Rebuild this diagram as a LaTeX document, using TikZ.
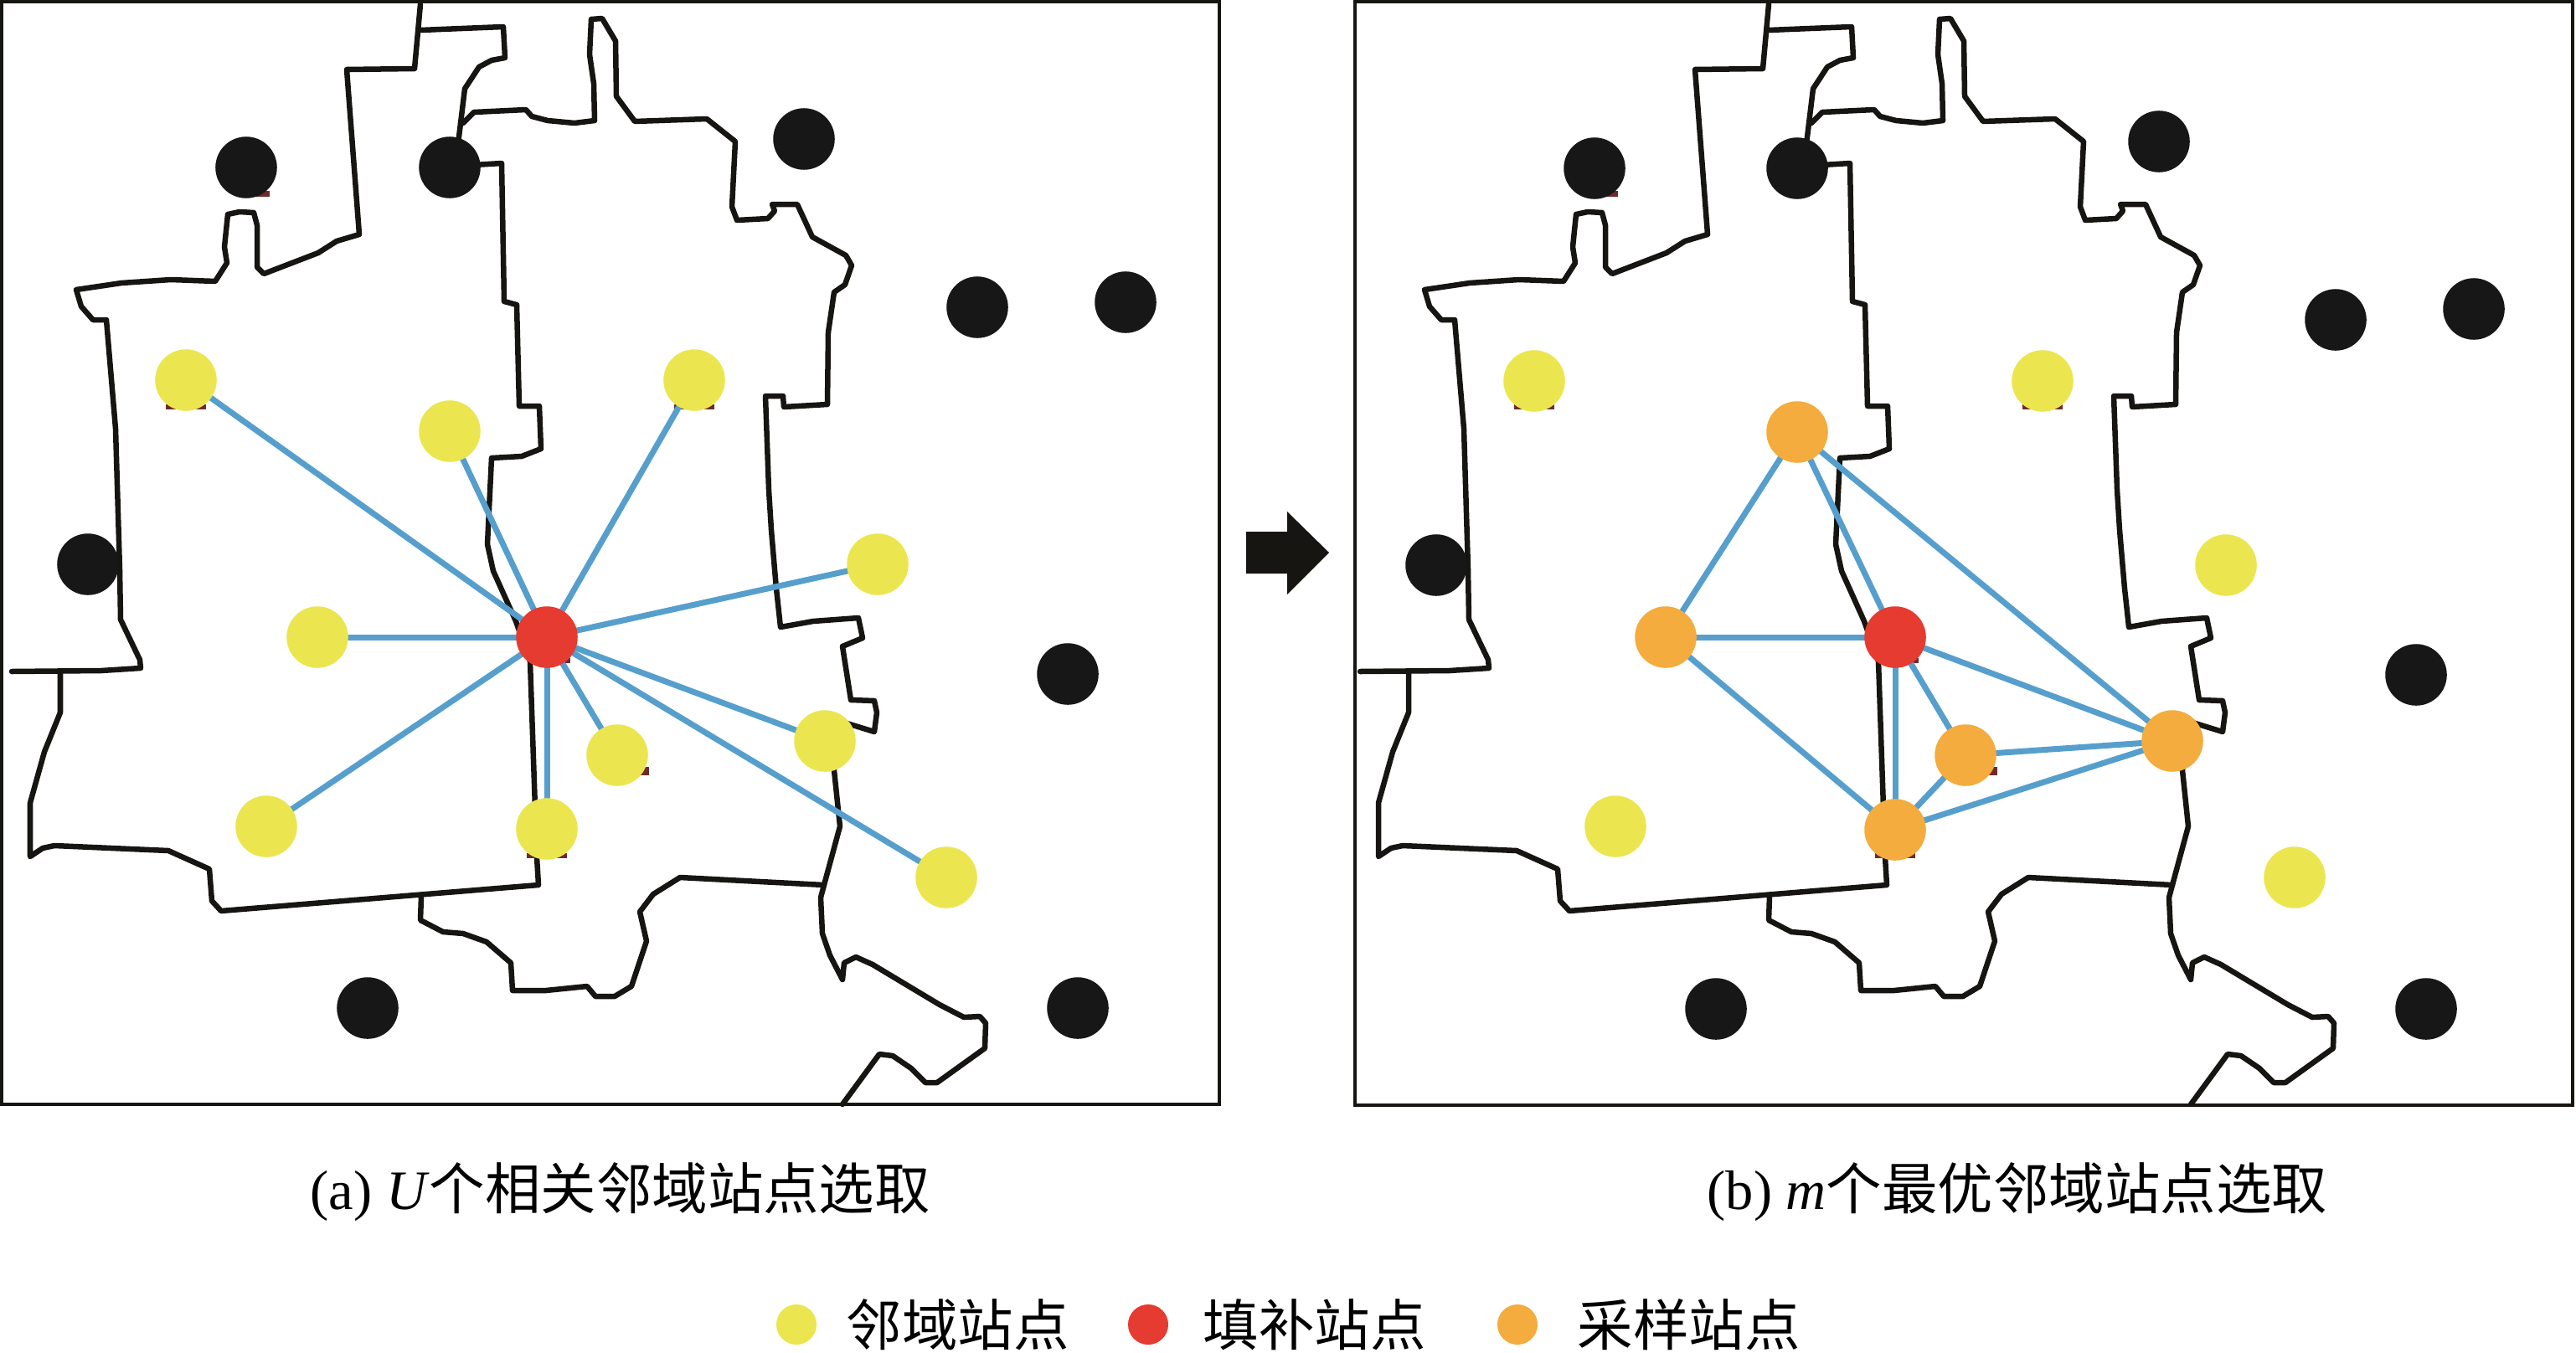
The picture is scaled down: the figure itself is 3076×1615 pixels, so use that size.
\documentclass[tikz,border=0pt]{standalone}
\usepackage{fontspec}
\setmainfont{Liberation Serif}
\newfontfamily\cjk{Noto Sans CJK SC}
\usetikzlibrary{backgrounds}
\definecolor{inkblack}{HTML}{171512}
\definecolor{farblack}{HTML}{171717}
\definecolor{siteyellow}{HTML}{EBE650}
\definecolor{sitered}{HTML}{E53B30}
\definecolor{siteorange}{HTML}{F3AC3D}
\definecolor{linkblue}{HTML}{569FCD}
\definecolor{stainred}{HTML}{6E2A2C}
\tikzset{
  site/.style={circle,minimum size=0.735cm,inner sep=0pt,outer sep=0pt},
  farsite/.style={site,fill=farblack},
  nearsite/.style={site,fill=siteyellow},
  fillsite/.style={site,fill=sitered},
  samplesite/.style={site,fill=siteorange},
  keydot/.style={minimum size=0.48cm},
  link/.style={linkblue,line width=0.07cm,shorten <=-3pt,shorten >=-3pt},
  cityline/.style={inkblack,line width=0.065cm,line join=round,line cap=round},
  panel/.style={inkblack,line width=0.04cm},
  stain/.style={fill=stainred},
  label/.style={inner sep=0pt,font=\fontsize{18.9}{22}\selectfont}
}
\newcommand{\cityoutline}{%
  \draw[cityline] (502,5) -- (495,82) -- (414,83) -- (429,280) -- (402,288) -- (380,302) -- (315,327) -- (307,319) -- (307,269) -- (303,254) -- (286,253) -- (272,256) -- (268,295) -- (271,314) -- (257,336) -- (204,334) -- (145,338) -- (91,346) -- (97,366) -- (111,382) -- (127,382) -- (138,512) -- (143,680) -- (144,740) -- (167,788) -- (168,798) -- (121,801) -- (14,802);
  \draw[cityline] (72,803) -- (72,851) -- (53,898) -- (36,959) -- (36,1023) -- (51,1013) -- (65,1010) -- (201,1016) -- (250,1038) -- (253,1076) -- (264,1088) -- (643,1057) -- (641,1024) -- (633,790) -- (616,742) -- (589,682) -- (582,650) -- (587,547) -- (623,545) -- (646,536) -- (644,485) -- (620,485) -- (617,364) -- (602,360) -- (599,195) -- (550,198);
  \draw[cityline] (546,180) -- (555,106) -- (572,80) -- (587,72) -- (603,69) -- (601,32) -- (502,36);
  \draw[cityline] (553,147) -- (566,134) -- (628,131) -- (635,139) -- (654,144) -- (686,147) -- (710,144) -- (709,100) -- (704,65) -- (706,23) -- (719,22) -- (735,49) -- (736,115) -- (758,145) -- (844,142) -- (878,169) -- (874,247) -- (880,263) -- (917,261) -- (925,252) -- (922,244) -- (952,244) -- (970,283) -- (1010,305) -- (1017,317) -- (1009,340) -- (996,349) -- (989,397) -- (988,483) -- (936,486) -- (935,473) -- (914,473) -- (918,585) -- (921,633) -- (925,680) -- (927,703) -- (932,749) -- (971,742) -- (1025,738) -- (1030,762) -- (1006,772) -- (1016,836) -- (1044,837) -- (1047,851) -- (1044,874) -- (1005,862) -- (996,920) -- (1003,987) -- (984,1057) -- (980,1072) -- (982,1115) -- (991,1141) -- (1006,1170) -- (1008,1150) -- (1022,1143) -- (1042,1152) -- (1122,1200) -- (1151,1215) -- (1170,1214) -- (1177,1222) -- (1176,1252) -- (1119,1293) -- (1105,1293) -- (1088,1276) -- (1066,1261) -- (1050,1259) -- (1006,1319);
  \draw[cityline] (984,1057) -- (812,1048) -- (780,1068) -- (764,1089) -- (772,1124) -- (754,1178) -- (734,1190) -- (711,1190) -- (701,1178) -- (652,1183) -- (612,1183) -- (610,1150) -- (581,1125) -- (553,1115) -- (529,1113) -- (502,1099) -- (503,1070);
  \foreach \a/\b in {222/454,829/454,653/990}
    \fill[stain] (\a-24,\b+29) rectangle (\a+24,\b+35);
  \fill[stain] (290,228) rectangle (322,235);
  \fill[stain] (672,786) rectangle (681,792);
  \fill[stain] (762,916) rectangle (775,926);
}
\begin{document}
\begin{tikzpicture}[x=0.01cm,y=-0.01cm]
  \useasboundingbox (0,0) rectangle (3076,1615);

  % left panel
  \foreach \name/\x/\y in {fa/294/200,fb/537/200,fc/105/674,fd/960/166,fe/1167/367,ff/1344/361,fg/1275/805,fh/1287/1204,fi/439/1204}
    \node[farsite] (\name) at (\x,\y) {};
  \foreach \name/\x/\y in {na/222/454,nb/537/515,nc/829/454,nd/1048/674,ne/379/761,nf/318/987,ng/653/990,nh/737/902,ni/985/885,nj/1130/1048}
    \node[nearsite] (\name) at (\x,\y) {};
  \node[fillsite] (fill) at (653,761) {};

  % right panel
  \foreach \name/\x/\y in {ra/1904/201,rb/2146/201,rc/1715/675,rd/2578/169,re/2789/382,rf/2954/369,rg/2885/806,rh/2897/1205,ri/2049/1205}
    \node[farsite] (\name) at (\x,\y) {};
  \foreach \name/\x/\y in {ma/1832/455,mb/2439/455,mc/2658/675,md/1929/987,me/2740/1048}
    \node[nearsite] (\name) at (\x,\y) {};
  \foreach \name/\x/\y in {sa/2146/516,sb/1989/761,sc/2347/902,sd/2263/991,se/2594/885}
    \node[samplesite] (\name) at (\x,\y) {};
  \node[fillsite] (refill) at (2263,761) {};

  \begin{scope}[on background layer]
    \foreach \dx in {0,1610}{
      \begin{scope}[shift={(\dx,0)}]
        \cityoutline
      \end{scope}
    }
    \foreach \name in {na,nb,nc,nd,ne,nf,ng,nh,ni,nj}
      \draw[link] (fill) -- (\name);
    \foreach \a/\b in {sa/sb,sa/refill,sa/se,sb/refill,sb/sd,refill/sd,refill/sc,refill/se,sc/sd,sc/se,sd/se}
      \draw[link] (\a) -- (\b);
  \end{scope}

  \draw[panel] (2,2) rectangle (1456,1319);
  \draw[panel] (1618,2) rectangle (3072,1320);

  % arrow between the panels
  \fill[inkblack] (1488,635) -- (1537,635) -- (1537,611) -- (1587,660) -- (1537,710) -- (1537,685) -- (1488,685) -- cycle;

  % captions
  \node[label,anchor=base west] (capa) at (370,1444) {(a) \textit{U}{\cjk 个相关邻域站点选取}};
  \node[label,anchor=base west] (capb) at (2038,1444) {(b) \textit{m}{\cjk 个最优邻域站点选取}};

  % key
  \node[nearsite,keydot] (keya) at (951,1582) {};
  \node[label,right] (texta) at (1010,1582) {\cjk 邻域站点};
  \node[fillsite,keydot] (keyb) at (1371,1582) {};
  \node[label,right] (textb) at (1436,1582) {\cjk 填补站点};
  \node[samplesite,keydot] (keyc) at (1812,1582) {};
  \node[label,right] (textc) at (1883,1582) {\cjk 采样站点};
\end{tikzpicture}
\end{document}
